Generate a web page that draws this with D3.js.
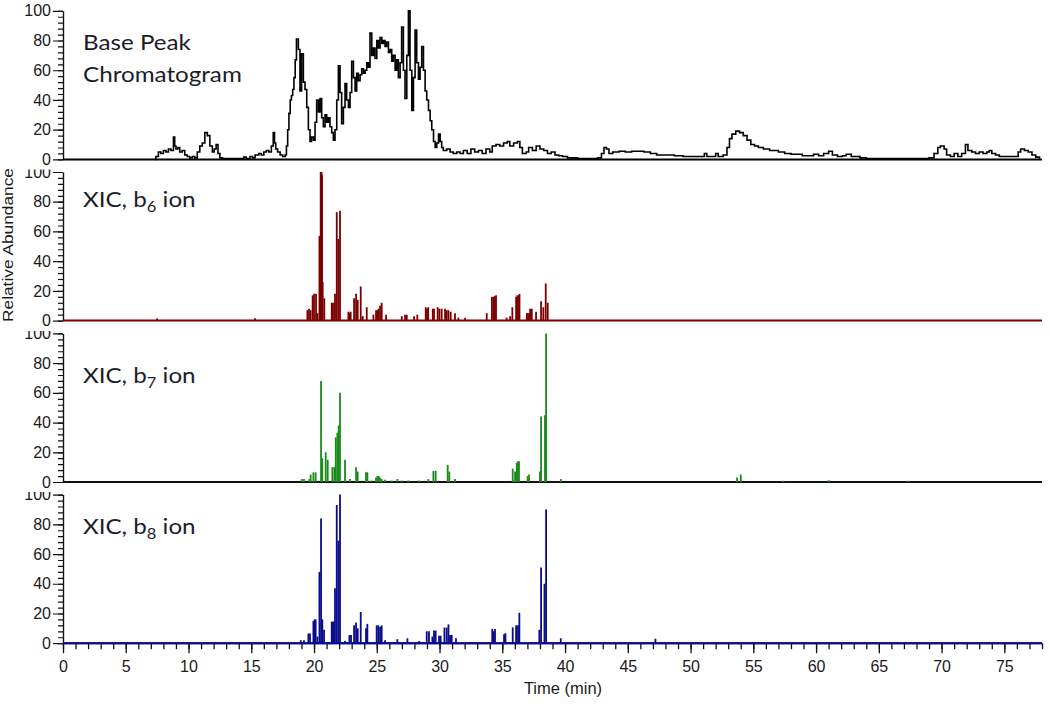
<!DOCTYPE html>
<html lang="en">
<head>
  <meta charset="UTF-8">
  <title>Base peak chromatogram and XIC traces</title>
  <script src="https://d3js.org/d3.v7.min.js"></script>
  <style>
    body {
      margin: 0;
      background: #fff;
    }
    svg {
      display: block;
    }
    .tick text {
      font-family: "Liberation Sans", Arial, sans-serif;
      font-size: 16px;
      fill: #1a1a1a;
    }
    .panel-label {
      font-family: Lato, "Open Sans", sans-serif;
      font-size: 22px;
      fill: #1c1c2a;
    }
    .axis-title {
      font-family: "Liberation Sans", Arial, sans-serif;
      fill: #1a1a1a;
    }
  </style>
</head>
<body>
<svg id="chart" width="1050" height="707"></svg>

<script>
// ---- data: [time (min), relative abundance] ----
const bpcData = [
  [7.3,0],[7.4,2],[7.6,5],[7.8,4],[8.0,6],[8.2,5],[8.4,7],[8.6,6],[8.8,15],[8.9,9],[9.0,7],[9.15,8],[9.3,5],[9.5,6],[9.7,3],[9.9,2],
  [10.1,1],[10.3,2],[10.5,1],[10.7,5],[10.9,9],[11.1,11],[11.3,18],[11.5,16],[11.7,9],[11.9,5],[12.05,7],[12.2,10],[12.35,4],[12.5,1],[12.7,0.5],
  [14.2,0.5],[14.4,1.5],[14.6,0.5],[14.9,2],[15.1,1],[15.3,3],[15.6,4],[15.8,3],[16.0,5],[16.2,6],[16.4,5],[16.6,9],[16.75,18],[16.85,11],[16.95,7],
  [17.1,5],[17.3,3],[17.5,2],[17.7,3],[17.8,9],[17.9,20],[18.0,31],[18.1,40],[18.2,43],[18.3,47],[18.4,55],[18.5,67],[18.6,81],[18.75,74],[18.88,46],
  [19.01,71],[19.15,52],[19.28,47],[19.42,35],[19.55,20],[19.68,12],[19.8,15],[19.95,13],[20.08,25],[20.21,40],[20.35,32],[20.48,41],[20.61,28],
  [20.74,22],[20.88,30],[21.01,25],[21.14,28],[21.27,22],[21.41,18],[21.54,13],[21.67,20],[21.81,40],[21.94,63],[22.07,45],[22.2,24],[22.34,35],
  [22.47,51],[22.6,40],[22.74,35],[22.87,45],[23.0,66],[23.14,55],[23.27,46],[23.4,58],[23.53,53],[23.67,57],[23.8,61],[23.94,58],[24.07,60],
  [24.2,65],[24.33,62],[24.46,85],[24.6,70],[24.73,75],[24.86,68],[25.0,80],[25.13,75],[25.26,82],[25.4,78],[25.53,80],[25.66,76],[25.79,79],
  [25.93,72],[26.06,74],[26.19,66],[26.32,70],[26.46,60],[26.59,67],[26.72,55],[26.86,65],[26.98,89],[27.12,60],[27.25,41],[27.39,70],[27.52,100],
  [27.65,60],[27.79,33],[27.92,55],[28.05,87],[28.18,65],[28.32,54],[28.45,62],[28.58,76],[28.72,60],[28.85,46],[28.98,40],[29.12,33],[29.25,26],
  [29.38,20],[29.52,12],[29.65,8],[29.78,11],[29.92,17],[30.05,12],[30.17,8],[30.3,6],[30.57,7],[30.84,5],[31.1,4],[31.37,5],[31.64,4],[31.9,6],
  [32.2,4],[32.5,7],[32.8,5],[33.1,6],[33.4,4],[33.7,7],[34.0,5],[34.2,9],[34.5,10],[34.8,9],[35.1,11],[35.4,12],[35.6,9],[35.9,11],[36.2,12],
  [36.4,8],[36.6,4],[36.9,5],[37.1,8],[37.4,6],[37.7,9],[38.0,7],[38.3,6],[38.6,4],[38.9,5],[39.2,3],[39.5,2.5],[39.8,2],[40.2,1],[41.0,0.5],
  [42.6,1],[42.9,4],[43.1,8],[43.3,7],[43.5,4],[43.8,5],[44.3,5.5],[44.8,5],[45.3,5.5],[45.8,5.5],[46.3,5],[46.8,4],[47.3,3],[48.0,3],[48.7,2.5],
  [49.4,2],[50.9,2],[51.1,4],[51.3,2],[51.8,2],[52.0,4],[52.2,2],[52.6,3],[52.9,8],[53.1,14],[53.3,17],[53.6,19],[53.9,18],[54.2,16],[54.5,13],
  [54.8,10],[55.1,9],[55.4,8],[55.8,7],[56.3,6],[57.0,5],[57.5,4],[58.0,3.5],[58.9,2.5],[59.5,2.5],[59.8,3.5],[60.2,2.5],[60.6,4],[61.0,5.5],
  [61.3,3],[61.7,2],[62.1,2.5],[62.4,3.5],[62.8,2],[63.5,1],[64.0,0.5],[68.6,0.5],[69.0,1],[69.4,4],[69.7,8],[69.9,9],[70.2,7],[70.4,3],[70.7,2],
  [71.0,4],[71.3,2],[71.6,4],[71.9,10],[72.1,6],[72.4,5],[72.7,4],[73.0,5],[73.3,4],[73.6,5],[73.8,6],[74.0,4],[74.3,3],[74.6,2],[75.9,2],
  [76.1,5],[76.3,7],[76.6,6],[76.9,5],[77.2,3],[77.5,1.5],[77.8,0.5]
];

const b6Data = [
  [7.5,1.5],[15.3,1.5],[19.47,7],[19.6,8],[19.73,7],[19.89,17],[20.0,18],[20.16,18],[20.27,5],[20.43,57],[20.53,100],[20.6,100],[20.64,98],
  [20.69,26],[20.82,15],[21.41,12],[21.5,12],[21.62,12],[21.67,18],[21.81,73],[21.94,55],[22.07,74],[22.74,6],[22.85,5],[22.92,6],[23.19,15],
  [23.35,18],[23.48,14],[23.72,23],[23.88,3],[24.2,9],[24.73,4],[24.94,7],[25.05,7],[25.13,8],[25.26,10],[25.39,12],[25.74,4],[26.99,3],
  [27.25,4],[27.39,4],[27.97,3],[28.23,4],[28.9,9],[29.0,8],[29.1,9],[29.46,8],[29.56,8],[29.85,9],[29.99,8],[30.17,8],[30.44,8],[30.57,7],
  [30.71,7],[30.89,6],[31.23,5],[31.5,2],[32.03,2],[33.76,5],[34.17,16],[34.3,16],[34.4,16.5],[34.5,17],[35.35,2],[35.62,3],[35.8,9],
  [36.1,16],[36.2,17],[36.3,17],[36.37,18],[36.95,5],[37.05,5],[37.16,5],[37.22,8],[37.35,8],[37.69,6],[38.09,13],[38.27,9],[38.46,25],[38.62,12]
];

const b7Data = [
  [19.02,2],[19.2,2],[19.63,2],[19.73,5],[19.95,6.5],[20.13,6.5],[20.56,68],[20.66,16],[20.93,20],[21.09,15],[21.46,10],[21.62,10],[21.73,30],
  [21.86,33],[21.96,38],[22.07,60],[22.47,15],[22.87,2],[23.35,10],[23.48,7],[24.14,6.5],[24.25,6.5],[24.52,1],[24.94,3],[25.05,4],[25.15,4],
  [25.26,3],[25.39,2],[25.66,1.5],[26.19,1],[26.64,2],[26.99,1],[27.52,1],[28.39,1],[29.11,2],[29.51,7.5],[29.69,7.5],[30.65,11.5],[30.78,7],
  [31.23,2],[35.83,9],[36.02,7],[36.15,13],[36.25,14],[36.33,14],[37.02,4],[37.13,5],[38.0,7],[38.09,44],[38.4,45],[38.49,100],[39.66,2],
  [53.7,3],[54.0,5],[57.4,0.8],[61.0,1.2],[67.3,0.8]
];

const b8Data = [
  [18.94,2],[19.2,2],[19.55,6.5],[19.68,6.5],[19.95,15],[20.05,16],[20.13,16],[20.27,4.5],[20.43,48],[20.56,84],[20.66,16],[20.8,9],[21.41,14.5],
  [21.5,14.5],[21.59,14.5],[21.67,37],[21.81,93],[21.94,69],[22.07,100],[22.47,1.5],[22.82,5.5],[22.95,5.5],[23.19,12],[23.35,14],[23.48,10],
  [23.72,21],[24.14,10],[24.25,13],[24.99,12],[25.12,12],[25.26,11],[25.39,12],[25.66,2],[26.64,2.7],[27.44,3.3],[28.39,1.5],[28.98,8],[29.16,8],
  [29.43,4.5],[29.56,8.5],[29.69,8.5],[29.96,5],[30.09,5],[30.39,10.5],[30.57,10.5],[30.71,12.7],[30.84,5.6],[30.97,5.6],[31.31,3.3],[34.2,9.6],
  [34.31,8],[34.42,9.6],[35.14,6],[35.25,6.7],[35.83,10.7],[36.1,12],[36.25,12],[36.36,20.5],[37.95,9],[38.09,51],[38.36,40],[38.49,90],
  [39.66,3.3],[47.2,3]
];

const timeTicks = [0, 5, 10, 15, 20, 25, 30, 35, 40, 45, 50, 55, 60, 65, 70, 75];
const abundanceTicks = [0, 20, 40, 60, 80, 100];

// ---- layout ----
const svg = d3.select("#chart");
const panelTop = [10.8, 172, 333.4, 494.6];
const panelH = 148.6;

const x = d3.scaleLinear().domain([0, 78]).range([63, 1042]);

const panels = [
  { data: bpcData, kind: "line",  color: "#000000", base: "#000000", labelY: 50 },
  { data: b6Data,  kind: "stick", color: "#7a0000", base: "#7a0000", labelY: 207, ion: "6" },
  { data: b7Data,  kind: "stick", color: "#1a8a1a", base: "#111111", labelY: 383, ion: "7" },
  { data: b8Data,  kind: "stick", color: "#0a0a8a", base: "#0a0a8a", labelY: 534, ion: "8" }
];

const defs = svg.append("defs");

// labels in the figure come out a bit wider than Lato, stretch them slightly
function labelAt(g, yPos) {
  return g.append("text").attr("class", "panel-label")
    .attr("transform", `translate(83,${yPos}) scale(1.1,1)`);
}

panels.forEach((p, i) => {
  const top = panelTop[i], bottom = top + panelH;
  const y = d3.scaleLinear().domain([0, 100]).range([bottom, top]);
  const g = svg.append("g");

  // y axis; the panel above cuts off the top of the "100" label
  // (clip rect is in the axis group's local coords, shifted by 63)
  defs.append("clipPath").attr("id", "clipY" + i)
    .append("rect").attr("x", -63).attr("width", 80)
    .attr("y", i === 0 ? 0 : top - 2.5).attr("height", panelH + 20);

  const yAx = g.append("g").attr("clip-path", `url(#clipY${i})`)
    .attr("transform", "translate(63,0)");
  yAx.call(d3.axisLeft(y).tickValues(abundanceTicks).tickSize(10).tickSizeOuter(0).tickPadding(2));
  yAx.append("g").call(d3.axisLeft(y).tickValues(d3.range(0, 101, 4)).tickSize(5).tickFormat(""))
    .select(".domain").remove();
  yAx.selectAll("line").attr("stroke", "#111").attr("stroke-width", 1.2);
  yAx.select(".domain").attr("stroke", "#111").attr("stroke-width", 1.4);

  // baseline
  g.append("line")
    .attr("x1", x(0)).attr("x2", x(78))
    .attr("y1", y(0)).attr("y2", y(0))
    .attr("stroke", p.base).attr("stroke-width", 2);

  if (p.kind === "line") {
    const line = d3.line().x(d => x(d[0])).y(d => y(d[1])).curve(d3.curveStepAfter);
    g.append("path").datum(p.data)
      .attr("d", line)
      .attr("fill", "none")
      .attr("stroke", p.color)
      .attr("stroke-width", 1.6);
  } else {
    g.selectAll(".stick").data(p.data).enter().append("line")
      .attr("class", "stick")
      .attr("x1", d => x(d[0])).attr("x2", d => x(d[0]))
      .attr("y1", y(0)).attr("y2", d => y(d[1]))
      .attr("stroke", p.color)
      .attr("stroke-width", 1.8);
  }

  // panel label
  const t = labelAt(g, p.labelY);
  if (p.ion) {
    t.append("tspan").text("XIC, b");
    t.append("tspan").attr("dy", 5).style("font-size", "15px").text(p.ion);
    t.append("tspan").attr("dy", -5).text(" ion");
  } else {
    t.text("Base Peak");
    labelAt(g, p.labelY + 32).text("Chromatogram");
  }
});

// x axis at the bottom panel
const yBottom = panelTop[3] + panelH;
const xAx = svg.append("g").attr("transform", `translate(0,${yBottom})`);
xAx.append("g").call(d3.axisBottom(x).tickValues(d3.range(0, 79, 1)).tickSize(6).tickFormat(""))
  .select(".domain").remove();
xAx.append("g").call(d3.axisBottom(x).tickValues(timeTicks).tickSize(10).tickSizeOuter(0).tickPadding(7))
  .select(".domain").remove();
xAx.selectAll("line").attr("stroke", "#111").attr("stroke-width", 1.3);

svg.append("line")
  .attr("x1", x(0)).attr("x2", x(78)).attr("y1", yBottom).attr("y2", yBottom)
  .attr("stroke", panels[3].base).attr("stroke-width", 2);

svg.append("text").attr("class", "axis-title")
  .attr("x", 563).attr("y", 694)
  .attr("text-anchor", "middle")
  .style("font-size", "16.5px")
  .text("Time (min)");

svg.append("text").attr("class", "axis-title")
  .attr("transform", "translate(13,245) rotate(-90)")
  .attr("text-anchor", "middle")
  .attr("textLength", 154)
  .attr("lengthAdjust", "spacingAndGlyphs")
  .style("font-size", "15px")
  .text("Relative Abundance");
</script>
</body>
</html>
